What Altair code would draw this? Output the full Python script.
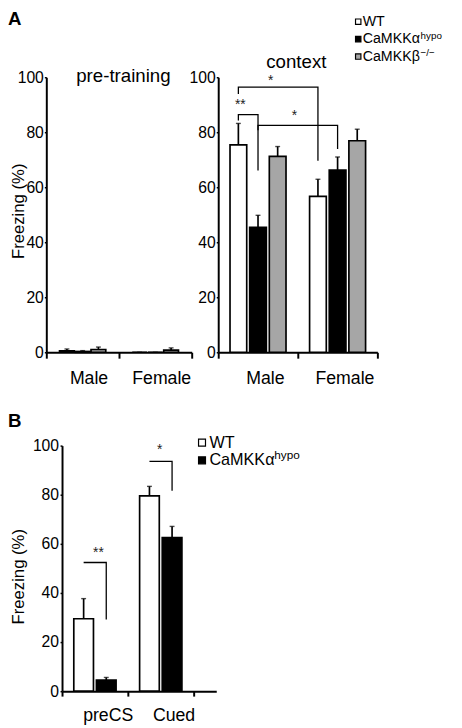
import altair as alt
import pandas as pd

FONT = "Liberation Sans"

# ---------------- data ----------------
sexes = ["Male", "Female"]
genos = ["WT", "alpha", "beta"]
geno_fill = ["white", "black", "#a6a6a6"]

grp_sex = ["Male", "Male", "Male", "Female", "Female", "Female"]
grp_geno = ["WT", "alpha", "beta", "WT", "alpha", "beta"]

pre_mean = [0.5, 0.3, 1.0, 0.0, 0.0, 0.8]
pre_err = [0.7, 0.3, 0.9, 0.0, 0.0, 0.8]

ctx_mean = [75.4, 45.4, 71.2, 56.7, 66.2, 76.9]
ctx_err = [7.8, 4.4, 3.6, 6.2, 4.8, 4.2]

phases = ["preCS", "Cued"]
cue_genos = ["WT", "alpha"]
cue_phase = ["preCS", "preCS", "Cued", "Cued"]
cue_geno = ["WT", "alpha", "WT", "alpha"]
cue_mean = [29.5, 4.5, 79.5, 62.5]
cue_err = [8.2, 1.1, 3.9, 4.6]

# significance brackets: path vertices
ctx_br_id = ["b1"] * 4 + ["b2"] * 4 + ["b3"] * 4
ctx_br_sex = ["Male", "Male", "Female", "Female",
              "Male", "Male", "Male", "Male",
              "Male", "Male", "Female", "Female"]
ctx_br_geno = ["WT", "WT", "WT", "WT",
               "WT", "WT", "alpha", "alpha",
               "alpha", "alpha", "alpha", "alpha"]
ctx_br_y = [93.9, 96.4, 96.4, 69.6,
            84.3, 86.4, 86.4, 66.1,
            80.7, 82.5, 82.5, 73.9]
ctx_star_text = ["*", "**", "*"]
ctx_star_sex = ["Male", "Male", "Male"]
ctx_star_geno = ["WT", "WT", "alpha"]
ctx_star_y = [97.1, 88.6, 84.3]

cue_br_id = ["c1"] * 3 + ["c2"] * 3
cue_br_phase = ["preCS"] * 3 + ["Cued"] * 3
cue_br_geno = ["WT", "alpha", "alpha", "WT", "alpha", "alpha"]
cue_br_y = [52.4, 52.4, 29.2, 93.6, 93.6, 81.6]
cue_star_text = ["**", "*"]
cue_star_phase = ["preCS", "Cued"]
cue_star_geno = ["WT", "WT"]
cue_star_y = [54.8, 96.4]

legA_labels = ["WT", "CaMKKα", "CaMKKβ"]
legA_sup = ["", "hypo", "−/−"]
legB_labels = ["WT", "CaMKKα"]
legB_sup = ["", "hypo"]

y_ticks = [0, 20, 40, 60, 80, 100]

# ---------------- tables ----------------
pre_df = pd.DataFrame({"grp": grp_sex, "geno": grp_geno, "mean": pre_mean, "err": pre_err})
ctx_df = pd.DataFrame({"grp": grp_sex, "geno": grp_geno, "mean": ctx_mean, "err": ctx_err})
cue_df = pd.DataFrame({"grp": cue_phase, "geno": cue_geno, "mean": cue_mean, "err": cue_err})
ctx_br = pd.DataFrame({"id": ctx_br_id, "grp": ctx_br_sex, "geno": ctx_br_geno,
                       "y": ctx_br_y, "ord": list(range(len(ctx_br_y)))})
cue_br = pd.DataFrame({"id": cue_br_id, "grp": cue_br_phase, "geno": cue_br_geno,
                       "y": cue_br_y, "ord": list(range(len(cue_br_y)))})


def bar_panel(df, xdom, xrange, xpo, xalign, odom, opi, opo, yrange,
              xaxis, yaxis, ytitle, br=None, stars=None, star_dx=None,
              star_size=14, cap=5):
    xs = alt.Scale(domain=xdom, range=xrange, paddingInner=0,
                   paddingOuter=xpo, align=xalign)
    os_ = alt.Scale(domain=odom, paddingInner=opi, paddingOuter=opo)
    ys = alt.Scale(domain=[0, 100], range=yrange, nice=False, zero=True)

    X = alt.X("grp:N", scale=xs, sort=xdom, axis=xaxis, title=None)
    XO = alt.XOffset("geno:N", scale=os_, sort=odom)

    def Y(f="mean"):
        return alt.Y(f"{f}:Q", scale=ys, axis=yaxis, title=ytitle)

    fill = alt.Fill("geno:N", scale=alt.Scale(domain=genos, range=geno_fill), legend=None)

    bars = alt.Chart(df).mark_bar(stroke="black", strokeWidth=1.7).encode(
        x=X, xOffset=XO, y=Y(), fill=fill)
    err = alt.Chart(df).transform_calculate(top="datum.mean + datum.err").mark_rule(
        color="black", strokeWidth=1.7).encode(
        x=X, xOffset=XO, y=Y(), y2="top:Q")
    caps = alt.Chart(df).transform_calculate(top="datum.mean + datum.err").mark_tick(
        color="black", thickness=1.4, size=cap).encode(
        x=X, xOffset=XO, y=Y("top"))
    layers = [bars, err, caps]
    if br is not None:
        layers.append(alt.Chart(br).mark_line(color="black", strokeWidth=1.3).encode(
            x=X, xOffset=XO, y=Y("y"), detail="id:N",
            order=alt.Order("ord:Q")))
    if stars is not None:
        for (txt, g, ge, yv), dx in zip(stars, star_dx):
            sdf = pd.DataFrame({"t": [txt], "grp": [g], "geno": [ge], "y": [yv]})
            layers.append(alt.Chart(sdf).mark_text(
                fontSize=star_size, dx=dx, baseline="alphabetic", color="#222").encode(
                x=X, xOffset=XO, y=Y("y"), text="t:N"))
    return alt.layer(*layers)


def y_axis(offset, title_x=None, title_y=None, title_size=17, label_size=16,
           tick=2, pad=1):
    kw = dict(orient="left", offset=offset, values=y_ticks, format="d",
              tickSize=tick, labelPadding=pad, labelFontSize=label_size,
              domainWidth=2, tickWidth=1.5, grid=False)
    if title_x is not None:
        kw.update(titleX=title_x, titleY=title_y, titleAngle=270,
                  titleAlign="center", titleBaseline="middle",
                  titleFontSize=title_size)
    return alt.Axis(**kw)


def x_axis(offset, label_offset, tick, pad):
    return alt.Axis(orient="bottom", offset=offset, labelAngle=0, tickBand="extent",
                    labelOffset=label_offset, tickSize=tick, labelPadding=pad,
                    labelFontSize=18, domainWidth=2, tickWidth=2, grid=False,
                    labelBaseline="top")


H = 720
W = 454

panel_pre = bar_panel(
    pre_df, sexes, [39, 187], 0, 0.5, genos, 0.0625, 0.84, [344, 64],
    x_axis(344 - H, 6, 6, 12), y_axis(-39, -28.5, 200), "Freezing (%)")

panel_ctx = bar_panel(
    ctx_df, sexes, [214, 376], 0, 0.5, genos, 0.15, 0.6, [344, 64],
    x_axis(344 - H, 7, 6, 12), y_axis(-214), None,
    br=ctx_br,
    stars=list(zip(ctx_star_text, ctx_star_sex, ctx_star_geno, ctx_star_y)),
    star_dx=[33, 2, 37])

panel_cue = bar_panel(
    cue_df, phases, [55, 212], 0.1716, 0, cue_genos, 0.13, 0.52, [689, 439],
    x_axis(689 - H, 13, 5, 11), y_axis(-55, -44.5, 572, 17, 16, 2, 1.5), "Freezing (%)",
    br=cue_br,
    stars=list(zip(cue_star_text, cue_star_phase, cue_star_geno, cue_star_y)),
    star_dx=[15, 10.5])


def label(txt, x, y, size, weight="normal", align="left", baseline="alphabetic"):
    return alt.Chart(pd.DataFrame({"t": [txt]})).mark_text(
        fontSize=size, fontWeight=weight, align=align, baseline=baseline,
        color="black").encode(x=alt.value(x), y=alt.value(y), text="t:N")


def legend(labels, sups, fills, sq_x, txt_x, yr, sq_size, fsize, sup_x, sup_size, sup_dy):
    ldf = pd.DataFrame({"lab": labels})
    ysc = alt.Scale(type="point", domain=labels, range=yr, padding=0)
    Yl = alt.Y("lab:N", scale=ysc, axis=None)
    sq = alt.Chart(ldf).mark_square(size=sq_size, stroke="black", strokeWidth=1.2,
                                    opacity=1).encode(
        x=alt.value(sq_x), y=Yl,
        fill=alt.Fill("lab:N", scale=alt.Scale(domain=labels, range=fills), legend=None))
    tx = alt.Chart(ldf).mark_text(align="left", baseline="middle", fontSize=fsize,
                                  color="black").encode(
        x=alt.value(txt_x), y=Yl, text="lab:N")
    out = [sq, tx]
    for lab, sp, sx in zip(labels, sups, sup_x):
        if not sp:
            continue
        sdf = pd.DataFrame({"lab": [lab], "s": [sp]})
        out.append(alt.Chart(sdf).mark_text(
            align="left", baseline="alphabetic", fontSize=sup_size, dy=sup_dy,
            color="black").encode(x=alt.value(sx), y=Yl, text="s:N"))
    return out


legA = legend(legA_labels, legA_sup, geno_fill, 356.5, 361, [7.5, 43], 30, 14.5,
              [0, 420, 420], 10, -0.5)
legB = legend(legB_labels, legB_sup, geno_fill[:2], 197.5, 205, [436, 454], 50, 16.5,
              [0, 271], 12, -1)

annots = [
    label("A", 0, 11, 19, weight="bold"),
    label("B", 0, 420, 19, weight="bold"),
    label("pre-training", 117.5, 69, 19, align="center"),
    label("context", 293.5, 55, 19, align="center"),
]

chart = alt.layer(panel_pre, panel_ctx, panel_cue, *legA, *legB, *annots).resolve_scale(
    x="independent", y="independent", xOffset="independent", fill="independent"
).resolve_axis(
    x="independent", y="independent"
).properties(
    width=W, height=H, padding=0, autosize=alt.AutoSizeParams(type="none")
).configure_view(stroke=None).configure_axis(
    labelFont=FONT, titleFont=FONT, labelColor="black", titleColor="black",
    domainColor="black", tickColor="black", titleFontWeight="normal"
).configure_text(font=FONT)

chart.save("out.html", embed_options={"renderer": "svg", "actions": False})
